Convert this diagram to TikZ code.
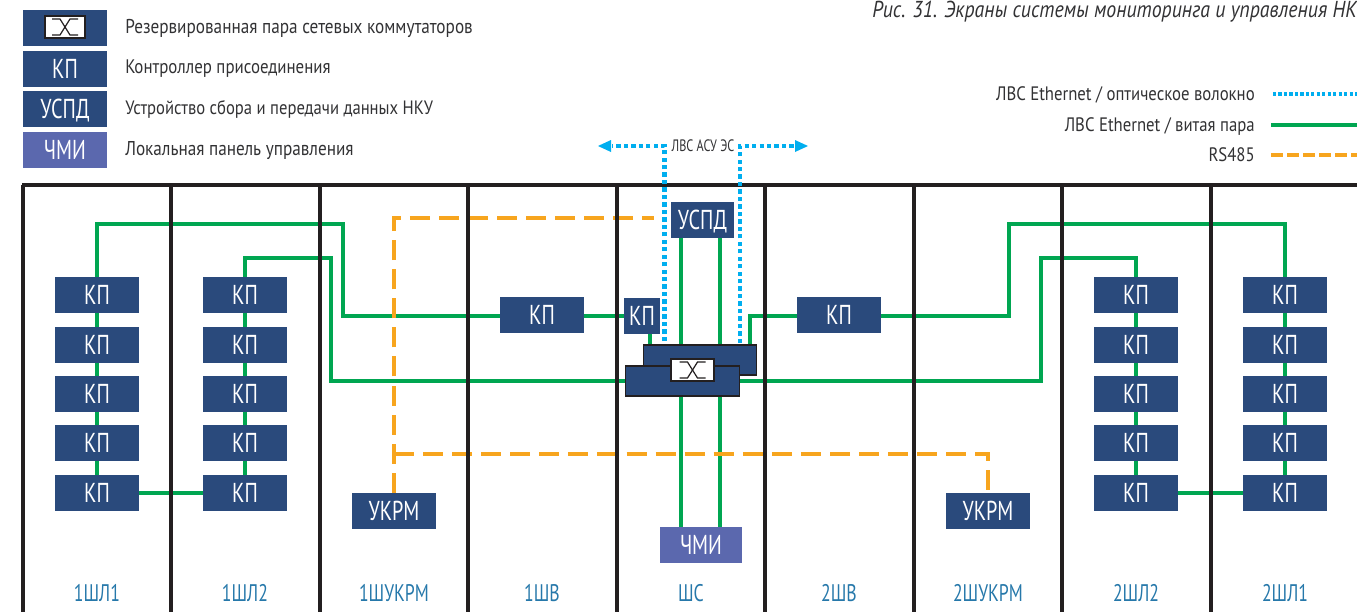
\documentclass[tikz,border=0pt]{standalone}
\usepackage{fontspec}
\setmainfont[FakeStretch=0.74]{PT Sans}
\newfontfamily\legendfont[FakeStretch=0.86]{PT Sans}
\usetikzlibrary{calc,arrows.meta}
\definecolor{boxblue}{RGB}{42,74,124}
\definecolor{boxviolet}{RGB}{91,104,174}
\definecolor{twistgreen}{RGB}{0,166,81}
\definecolor{fibreblue}{RGB}{0,174,239}
\definecolor{rsorange}{RGB}{247,165,30}
\definecolor{gridblack}{RGB}{35,31,32}
\definecolor{panelblue}{RGB}{38,120,170}
\definecolor{legendgray}{RGB}{50,50,52}
\tikzset{
  devbox/.style={fill=boxblue,text=white,inner sep=0pt,minimum width=63pt,minimum height=27pt,
    text height=14pt,text depth=0pt,font=\fontsize{20.5}{20.5}\selectfont},
  kpbox/.style={devbox},
  smallbox/.style={devbox,minimum width=27pt},
  uspdbox/.style={devbox,minimum width=47pt},
  hmibox/.style={devbox,fill=boxviolet,minimum width=61.5pt},
  swbox/.style={fill=boxblue,draw=gridblack,line width=0.9pt,inner sep=0pt,minimum width=85pt,minimum height=22.5pt},
  swicon/.style={fill=white,draw=gridblack,line width=1.3pt,inner sep=0pt,minimum width=32pt,minimum height=16.5pt},
  swline/.style={draw=gridblack,line width=0.9pt},
  twisted/.style={draw=twistgreen,line width=2.8pt},
  rsline/.style={draw=rsorange,line width=2.6pt,dash pattern=on 15pt off 6.8pt},
  fibre/.style={draw=fibreblue,line width=3.4pt,dash pattern=on 3.2pt off 2.4pt},
  gridline/.style={draw=gridblack,line width=2.6pt},
  legendtext/.style={text=legendgray,inner sep=0pt,font=\legendfont\fontsize{15}{15}\selectfont},
  paneltext/.style={text=panelblue,inner sep=0pt,font=\fontsize{18}{18}\selectfont},
}
\newcommand{\kpcolumn}[2]{%
  \foreach \r/\yy in {1/295,2/345,3/394,4/443,5/493}{%
    \node[kpbox] (#1\r) at (#2,\yy) {КП};}%
}
\newcommand{\kpchain}[1]{%
  \foreach \a/\b in {1/2,2/3,3/4,4/5}{%
    \draw[twisted] (#1\a) -- (#1\b);}%
}
\newcommand{\swcross}[1]{%
  \draw[swline] ([shift={(-13,-8)}]#1.center) -- ([shift={(-5,-8)}]#1.center) -- ([shift={(5,8)}]#1.center) -- ([shift={(13,8)}]#1.center);
  \draw[swline] ([shift={(-13,8)}]#1.center) -- ([shift={(-5,8)}]#1.center) -- ([shift={(5,-8)}]#1.center) -- ([shift={(13,-8)}]#1.center);}
\begin{document}
\begin{tikzpicture}[x=0.75pt,y=-0.75pt]
  \useasboundingbox (0,0) rectangle (1357,612);
  % legend
  \node[devbox] (legsw) at (65,28) {};
  \node[swicon,minimum width=30pt] (legicon) at (65,27) {};
  \swcross{legicon}
  \node[kpbox] (legkp) at (65,69) {КП};
  \node[kpbox] (leguspd) at (65,109) {УСПД};
  \node[hmibox,minimum width=63pt] (leghmi) at (65,150) {ЧМИ};
  \node[legendtext,anchor=base west] (txtsw) at (125,33.5) {Резервированная пара сетевых коммутаторов};
  \node[legendtext,anchor=base west,font=\legendfont\fontsize{14.7}{14.7}\selectfont] (txtkp) at (125,73) {Контроллер присоединения};
  \node[legendtext,anchor=base west,font=\legendfont\fontsize{14.5}{14.5}\selectfont] (txtuspd) at (125,114) {Устройство сбора и передачи данных НКУ};
  \node[legendtext,anchor=base west] (txthmi) at (125,155) {Локальная панель управления};
  \node[legendtext,anchor=base west,font=\legendfont\fontsize{17.3}{17.3}\selectfont\itshape] (title) at (872,17) {Рис. 31. Экраны системы мониторинга и управления НКУ};
  \node[legendtext,anchor=base east,font=\legendfont\fontsize{14.6}{14.6}\selectfont] (txtfibre) at (1255,100) {ЛВС Ethernet / оптическое волокно};
  \node[legendtext,anchor=base east,font=\legendfont\fontsize{14.6}{14.6}\selectfont] (txttwist) at (1255,131) {ЛВС Ethernet / витая пара};
  \node[legendtext,anchor=base east,font=\legendfont\fontsize{14.6}{14.6}\selectfont] (txtrs) at (1255,161) {RS485};
  \coordinate (fibreend) at (1357,94);
  \coordinate (twistend) at (1357,125);
  \coordinate (rsend) at (1357,155);
  \draw[fibre,line width=2.6pt,dash pattern=on 2.4pt off 1.7pt] (1273,94) -- (fibreend);
  \draw[twisted] (1271,125) -- (twistend);
  \draw[rsline,dash pattern=on 8.7pt off 3.3pt] (1271,155) -- (rsend);
  % devices
  \kpcolumn{la}{97}
  \kpcolumn{lb}{245}
  \kpcolumn{ra}{1285}
  \kpcolumn{rb}{1136}
  \node[kpbox] (kpw1) at (542,315) {КП};
  \node[kpbox] (kpw2) at (839,315) {КП};
  \node[smallbox] (kpc) at (642,316) {КП};
  \node[uspdbox] (uspd) at (702.5,220) {УСПД};
  \node[hmibox] (hmi) at (701,545) {ЧМИ};
  \node[kpbox] (ukrm1) at (394,511) {УКРМ};
  \node[kpbox] (ukrm2) at (988,511) {УКРМ};
  % connectors
  \kpchain{la}\kpchain{lb}\kpchain{ra}\kpchain{rb}
  \coordinate (swtop) at (700,345);
  \coordinate (swbot) at (683,396);
  \draw[twisted] (681,0 |- uspd.south) -- (681,0 |- swtop);
  \draw[twisted] (720,0 |- uspd.south) -- (720,0 |- swtop);
  \draw[twisted] (681,0 |- swbot) -- (681,0 |- hmi.north);
  \draw[twisted] (720,0 |- swbot) -- (720,0 |- hmi.north);
  \draw[twisted] (la5) -- (lb5);
  \draw[twisted] (rb5) -- (ra5);
  \draw[twisted] (la1.north) -- (97,224) -- (343,224) -- (343,316) -- (kpw1.west |- 0,316);
  \draw[twisted] (lb1.north) -- (245,258) -- (331,258) -- (331,381) -- (626,381);
  \draw[twisted] (kpw1.east |- 0,316) -- (kpc.west |- 0,316);
  \draw[twisted] (650,0 |- kpc.south) -- (650,345);
  \draw[twisted] (739,381) -- (1041,381) -- (1041,258) -- (1136,258) -- (rb1.north);
  \draw[twisted] (750,345) -- (750,316) -- (kpw2.west |- 0,316);
  \draw[twisted] (kpw2.east |- 0,316) -- (1009,316) -- (1009,224) -- (1285,224) -- (ra1.north);
  \draw[rsline] (ukrm1.north) -- (394,218) -- (654,218);
  \coordinate (rsbus) at (394,454);
  \draw[rsline] (rsbus) -- (988,454) -- (ukrm2.north);
  % switch pair
  \node[swbox] (swa) at (700,360) {};
  \node[swbox] (swb) at (682.5,381) {};
  \node[swicon] (icon) at (692.5,370) {};
  \swcross{icon}
  % panels
  \foreach \x in {23,171,320,468,617,765,914,1062,1211}{%
    \draw[gridline] (\x,185) -- (\x,612);}
  \draw[gridline] (22,185) -- (1357,185);
  \foreach \x/\lab in {97/1ШЛ1,245/1ШЛ2,394/1ШУКРМ,542/1ШВ,691/ШС,839/2ШВ,988/2ШУКРМ,1136/2ШЛ2,1285/2ШЛ1}{%
    \node[paneltext,anchor=base] (p\lab) at (\x,601) {\lab};}
  % uplink
  \node[text=legendgray,inner sep=0pt,font=\fontsize{12.4}{12.4}\selectfont] (lan) at (703,146) {ЛВС АСУ ЭС};
  \coordinate (lanl) at (598,146);
  \coordinate (lanr) at (808,146);
  \draw[fibre] (664.5,341) -- (664.5,146) -- (612,146);
  \draw[fibre] (740,343) -- (740,146) -- (794,146);
  \fill[fibreblue] (lanl) -- ++(13,-6) -- ++(0,12) -- cycle;
  \fill[fibreblue] (lanr) -- ++(-13,-6) -- ++(0,12) -- cycle;
\end{tikzpicture}
\end{document}
